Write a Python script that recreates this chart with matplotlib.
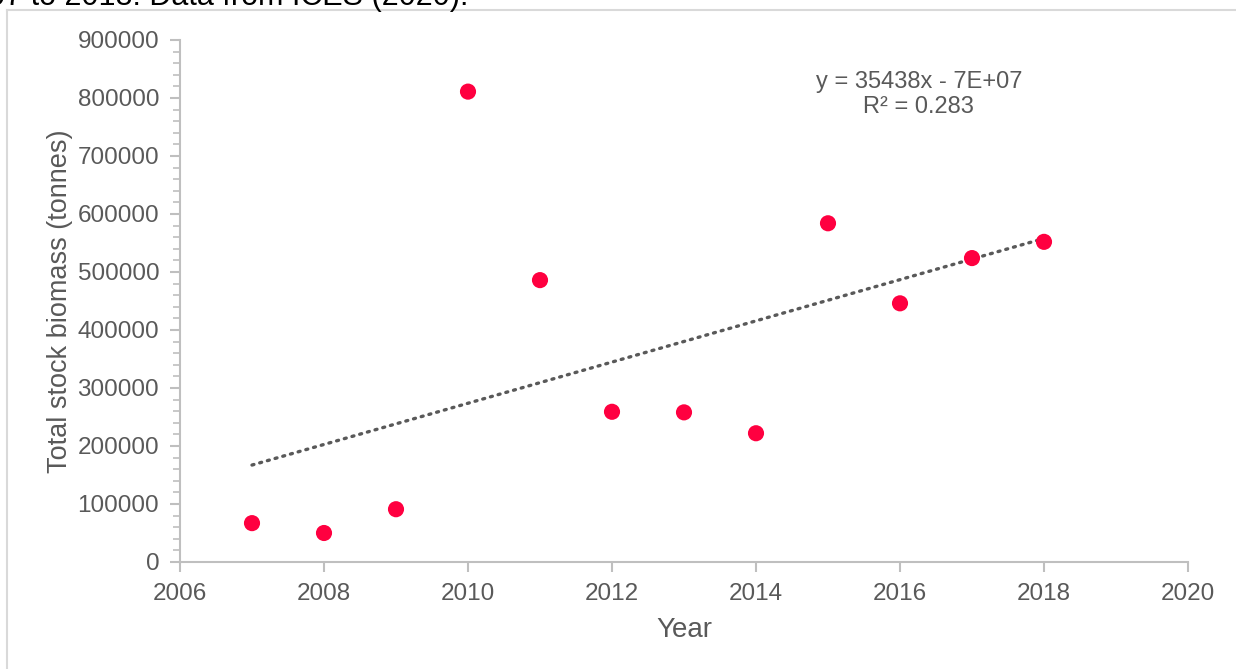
import numpy as np
import matplotlib
matplotlib.use("Agg")
import matplotlib.pyplot as plt
from matplotlib.lines import Line2D
from matplotlib.ticker import MultipleLocator

plt.rcParams['font.family'] = ['Liberation Sans', 'DejaVu Sans']

years = [2007, 2008, 2009, 2010, 2011, 2012, 2013, 2014, 2015, 2016, 2017, 2018]
biomass = [67000, 50000, 91000, 811000, 486000, 259000, 258000, 222000,
           584000, 446000, 524000, 552000]

grey_txt = '#595959'
axis_col = '#bfbfbf'

fig = plt.figure(figsize=(12.36, 6.69), dpi=100)
ax = fig.add_axes([180 / 1236, 1 - 562 / 669, (1188 - 180) / 1236, (562 - 40) / 669])

# linear trendline fitted to the points
slope, icpt = np.polyfit(years, biomass, 1)
xt = np.array([years[0], years[-1]])
ax.plot(xt, slope * xt + icpt, color=grey_txt, lw=2.4, ls=(0, (0.6, 1.8)),
        dash_capstyle='round', zorder=2)

ax.scatter(years, biomass, s=135, color='#ff0040', edgecolors='none', zorder=3)

ax.set_xlim(2006, 2020)
ax.set_ylim(0, 900000)
ax.xaxis.set_major_locator(MultipleLocator(2))
ax.yaxis.set_major_locator(MultipleLocator(100000))
ax.yaxis.set_minor_locator(MultipleLocator(20000))

for s in ['top', 'right']:
    ax.spines[s].set_visible(False)
for s in ['left', 'bottom']:
    ax.spines[s].set_color(axis_col)
    ax.spines[s].set_linewidth(1.5)

ax.tick_params(axis='both', which='major', length=7, width=1.5, color=axis_col,
               labelcolor=grey_txt, labelsize=17.5)
ax.tick_params(axis='x', which='major', pad=8)
ax.tick_params(axis='y', which='major', pad=8)
ax.tick_params(axis='y', which='minor', length=5, width=1.2, color=axis_col)

ax.set_xlabel('Year', fontsize=20, color=grey_txt, labelpad=9)
ax.set_ylabel('Total stock biomass (tonnes)', fontsize=19.5, color=grey_txt, labelpad=3)

ax.text(0.733, 0.94, 'y = 35438x - 7E+07\nR² = 0.283', transform=ax.transAxes,
        ha='center', va='top', fontsize=17, color=grey_txt, linespacing=1.15,
        multialignment='center')

# caption text cut off at the top of the image
fig.text(-0.01, 1 - 5 / 669, '07 to 2018. Data from ICES (2020).', fontsize=22,
         color='black', ha='left', va='baseline')

# chart area border (only top and left edges visible)
fig.add_artist(Line2D([7 / 1236, 7 / 1236], [0, 1 - 10 / 669], color='#d9d9d9', lw=1.5,
                      transform=fig.transFigure))
fig.add_artist(Line2D([7 / 1236, 1], [1 - 10 / 669, 1 - 10 / 669], color='#d9d9d9', lw=1.5,
                      transform=fig.transFigure))

fig.savefig('out.png', dpi=100)
